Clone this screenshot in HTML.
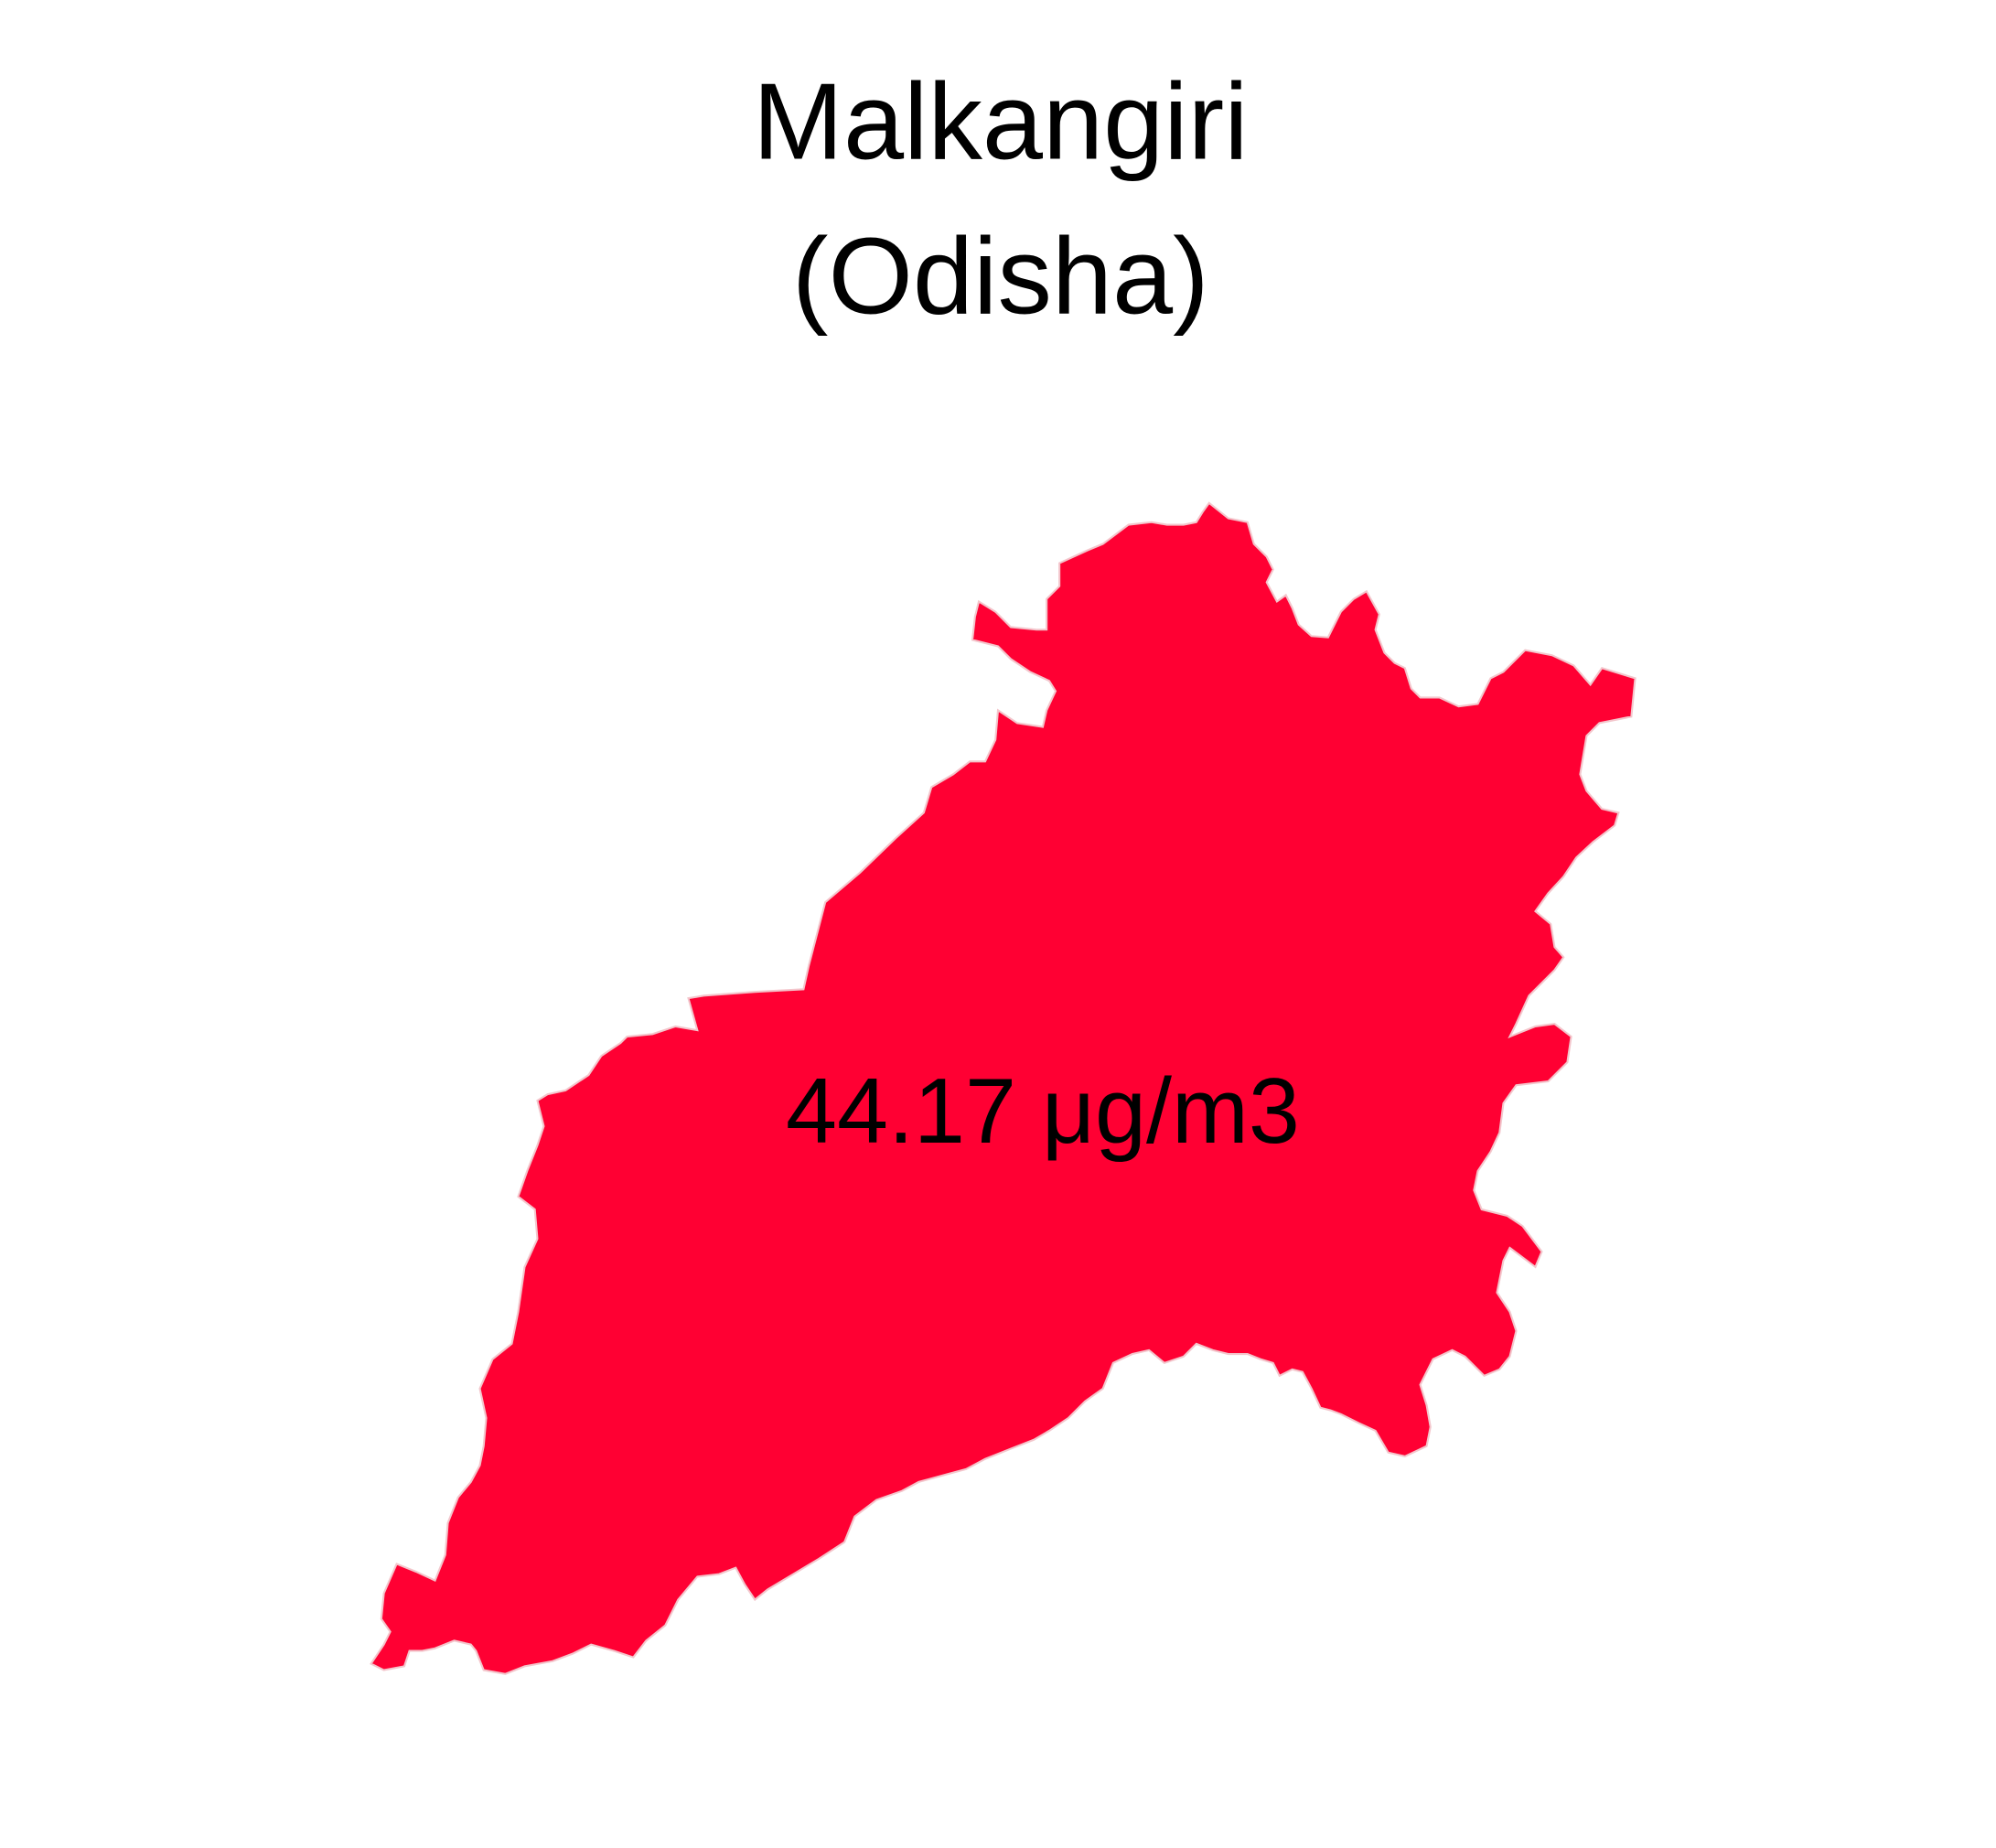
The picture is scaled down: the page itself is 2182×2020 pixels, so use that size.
<!DOCTYPE html>
<html><head><meta charset="utf-8"><style>html,body{margin:0;padding:0;background:#fff}svg{display:block}</style></head>
<body>
<svg width="2182" height="2020" viewBox="0 0 1560 1444" preserveAspectRatio="none" xmlns="http://www.w3.org/2000/svg">
<rect width="1560" height="1444" fill="#fff"/>
<text x="782" y="124" text-anchor="middle" font-family="Liberation Sans, sans-serif" font-size="85" fill="#000">Malkangiri</text>
<text x="782" y="245" text-anchor="middle" font-family="Liberation Sans, sans-serif" font-size="85" fill="#000">(Odisha)</text>
<polygon id="region" fill="#ff0033" stroke="#f3c6cc" stroke-width="1.5" points="945,393 960,405 975,408 980,425 990,435 995,445 990,455 998,470 1005,465 1010,475 1015,488 1025,497 1038,498 1048,478 1058,468 1068,462 1078,480 1075,492 1082,510 1090,518 1098,522 1103,538 1110,545 1125,545 1140,552 1155,550 1165,530 1175,525 1192,508 1213,512 1230,520 1243,535 1252,522 1278,530 1275,560 1265,562 1250,565 1240,575 1235,605 1240,618 1252,632 1265,635 1262,645 1245,658 1232,670 1222,685 1210,698 1200,712 1212,722 1215,740 1222,748 1215,758 1205,768 1195,778 1185,800 1180,810 1200,802 1215,800 1228,810 1225,830 1210,845 1185,848 1175,862 1172,885 1165,900 1155,915 1152,930 1158,945 1178,950 1190,958 1205,978 1200,990 1180,975 1175,985 1170,1010 1180,1025 1185,1040 1180,1060 1172,1070 1160,1075 1155,1070 1145,1060 1135,1055 1120,1062 1110,1082 1115,1098 1118,1115 1115,1130 1098,1138 1085,1135 1075,1118 1062,1112 1048,1105 1040,1102 1032,1100 1025,1085 1018,1072 1010,1070 1000,1075 995,1065 985,1062 975,1058 960,1058 948,1055 935,1050 925,1060 910,1065 898,1055 885,1058 870,1065 862,1085 848,1095 835,1108 820,1118 808,1125 790,1132 770,1140 755,1148 740,1152 718,1158 705,1165 685,1172 668,1185 660,1205 640,1218 620,1230 600,1242 590,1250 582,1238 575,1225 562,1230 545,1232 530,1250 520,1270 505,1282 495,1295 480,1290 462,1285 448,1292 432,1298 410,1302 395,1308 378,1305 372,1290 368,1285 355,1282 340,1288 330,1290 320,1290 316,1302 300,1305 290,1300 300,1285 305,1275 298,1265 300,1245 310,1222 325,1228 340,1235 348,1215 350,1190 358,1170 368,1158 375,1145 378,1130 380,1108 375,1085 385,1062 400,1050 405,1025 410,990 420,968 418,945 405,935 412,915 420,895 425,880 420,860 428,855 442,852 460,840 470,825 485,815 490,810 510,808 528,802 545,805 538,780 550,778 590,775 628,773 632,755 645,705 672,682 700,655 722,635 728,615 745,605 758,595 770,595 778,578 780,555 795,565 815,568 818,555 825,540 820,532 805,525 790,515 780,505 760,500 762,482 765,470 778,478 790,490 810,492 818,492 818,468 828,458 828,440 850,430 862,425 882,410 900,408 912,410 925,410 935,408 940,400"/>
<text x="815" y="893" text-anchor="middle" font-family="Liberation Sans, sans-serif" font-size="72" fill="#000">44.17 μg/m3</text>
</svg>
</body></html>
